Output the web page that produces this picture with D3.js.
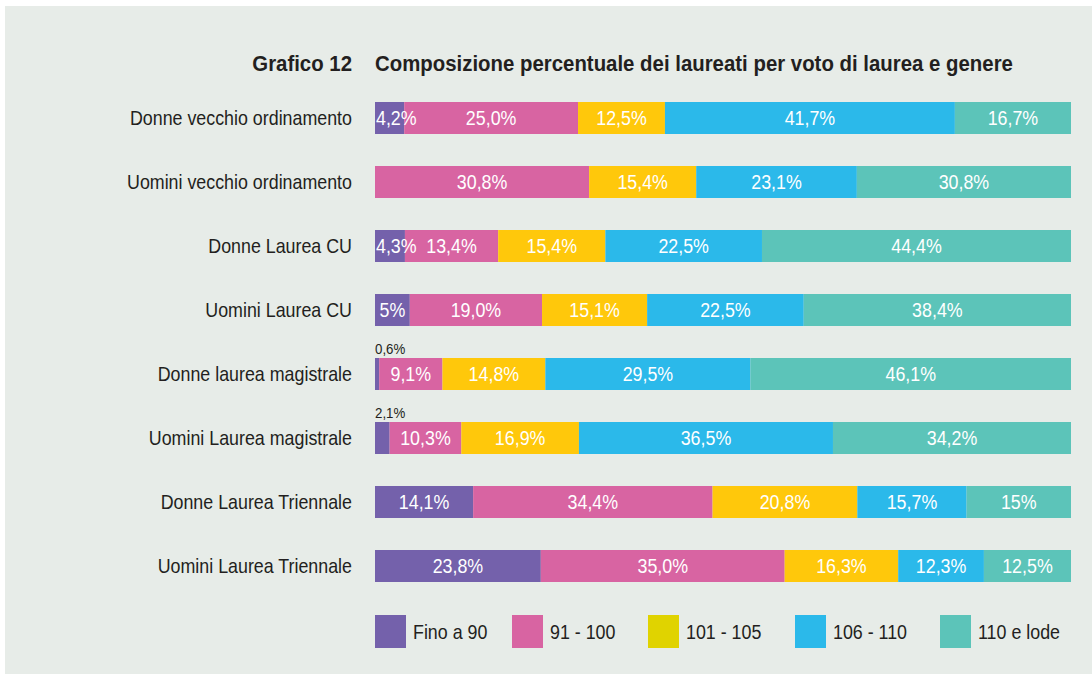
<!DOCTYPE html>
<html><head><meta charset="utf-8">
<script src="https://cdn.jsdelivr.net/npm/d3@7"></script>
<style>
html,body{margin:0;padding:0;background:#fff;}
svg text{font-family:"Liberation Sans",Arial,sans-serif;}
</style>
</head><body>
<svg id="c" width="1092" height="675"></svg>
<script>
const categories = ["Donne vecchio ordinamento","Uomini vecchio ordinamento","Donne Laurea CU","Uomini Laurea CU","Donne laurea magistrale","Uomini Laurea magistrale","Donne Laurea Triennale","Uomini Laurea Triennale"];
const seriesNames = ["Fino a 90","91 - 100","101 - 105","106 - 110","110 e lode"];
const fino90   = [4.2, 0,    4.3,  5,    0.6,  2.1,  14.1, 23.8];
const v91_100  = [25.0,30.8, 13.4, 19.0, 9.1,  10.3, 34.4, 35.0];
const v101_105 = [12.5,15.4, 15.4, 15.1, 14.8, 16.9, 20.8, 16.3];
const v106_110 = [41.7,23.1, 22.5, 22.5, 29.5, 36.5, 15.7, 12.3];
const lode110  = [16.7,30.8, 44.4, 38.4, 46.1, 34.2, 15,   12.5];
const labelText = [
  ["4,2%","25,0%","12,5%","41,7%","16,7%"],
  ["","30,8%","15,4%","23,1%","30,8%"],
  ["4,3%","13,4%","15,4%","22,5%","44,4%"],
  ["5%","19,0%","15,1%","22,5%","38,4%"],
  ["0,6%","9,1%","14,8%","29,5%","46,1%"],
  ["2,1%","10,3%","16,9%","36,5%","34,2%"],
  ["14,1%","34,4%","20,8%","15,7%","15%"],
  ["23,8%","35,0%","16,3%","12,3%","12,5%"]
];
const barColors = ["#7461ab","#d864a2","#ffc80b","#2bb9ea","#5cc4b9"];
const legendColors = ["#7461ab","#d864a2","#e0d300","#2bb9ea","#5cc4b9"];

const seriesArrays = [fino90, v91_100, v101_105, v106_110, lode110];
const rows = categories.map((c,i)=>{
  const o = {cat:c, idx:i};
  seriesNames.forEach((s,k)=>o[s]=seriesArrays[k][i]);
  return o;
});

const SX = 0.85; // horizontal condensing to mimic a condensed typeface
const FS = 21;
const svg = d3.select("#c");
svg.append("rect").attr("x",5).attr("y",6).attr("width",1087).attr("height",668).attr("fill","#e7ece8");

function addText(parent, x, y, str, o){
  o = o||{};
  const g = parent.append("g").attr("transform",`translate(${x},${y}) scale(${o.sx||SX},1)`);
  const t = g.append("text").attr("x",0).attr("y",0)
    .attr("text-anchor",o.anchor||"start")
    .attr("dy",o.dy||null)
    .attr("font-size",o.size||FS)
    .attr("font-weight",o.weight||"normal")
    .attr("fill",o.fill||"#231f20").text(str);
  return t;
}

const x = d3.scaleLinear().domain([0,1]).range([375,1071]);
const y = d3.scaleBand().domain(categories).range([86,598]).paddingInner(0.5).paddingOuter(0.25);

const stack = d3.stack().keys(seriesNames).offset(d3.stackOffsetExpand);
const stacked = stack(rows);

// Title
const t1 = addText(svg,352,71,"Grafico 12",{anchor:"end",size:22.5,weight:"bold",sx:1});
const t2 = addText(svg,375,71,"Composizione percentuale dei laureati per voto di laurea e genere",{size:22.5,weight:"bold",sx:1});
const k2 = 638/t2.node().getComputedTextLength();
d3.select(t2.node().parentNode).attr("transform",`translate(375,71) scale(${k2},1)`);
d3.select(t1.node().parentNode).attr("transform",`translate(352,71) scale(${k2},1)`);

// Category labels
categories.forEach(c=>{
  addText(svg,352,y(c)+y.bandwidth()/2,c,{anchor:"end",dy:"0.35em"});
});

// Bars
const g = svg.append("g");
stacked.forEach((layer,k)=>{
  g.append("g").selectAll("rect").data(layer).join("rect")
    .attr("x",d=>x(d[0])).attr("width",d=>Math.max(0,x(d[1])-x(d[0])))
    .attr("y",d=>y(d.data.cat)).attr("height",y.bandwidth())
    .attr("fill",barColors[k]);
});

// Value labels
stacked.forEach((layer,k)=>{
  layer.forEach(d=>{
    const i = d.data.idx;
    const t = labelText[i][k];
    if(!t) return;
    const x0 = x(d[0]), x1 = x(d[1]), w = x1-x0;
    const yc = y(d.data.cat)+y.bandwidth()/2;
    if(seriesArrays[k][i] < 3){
      addText(svg,x0,y(d.data.cat)-4,t,{size:14,sx:0.95});
      return;
    }
    const probe = addText(svg,0,0,t,{});
    const tw = probe.node().getComputedTextLength()*SX;
    d3.select(probe.node().parentNode).remove();
    if(tw+4 > w){ addText(svg,x0+1,yc,t,{dy:"0.35em",fill:"#fff"}); }
    else { addText(svg,(x0+x1)/2,yc,t,{anchor:"middle",dy:"0.35em",fill:"#fff"}); }
  });
});

// Legend
const legX = [375,512,648,795,940];
seriesNames.forEach((s,i)=>{
  svg.append("rect").attr("x",legX[i]).attr("y",615).attr("width",31).attr("height",33).attr("fill",legendColors[i]);
  addText(svg,legX[i]+38,632,s,{dy:"0.35em"});
});
</script>
</body></html>
